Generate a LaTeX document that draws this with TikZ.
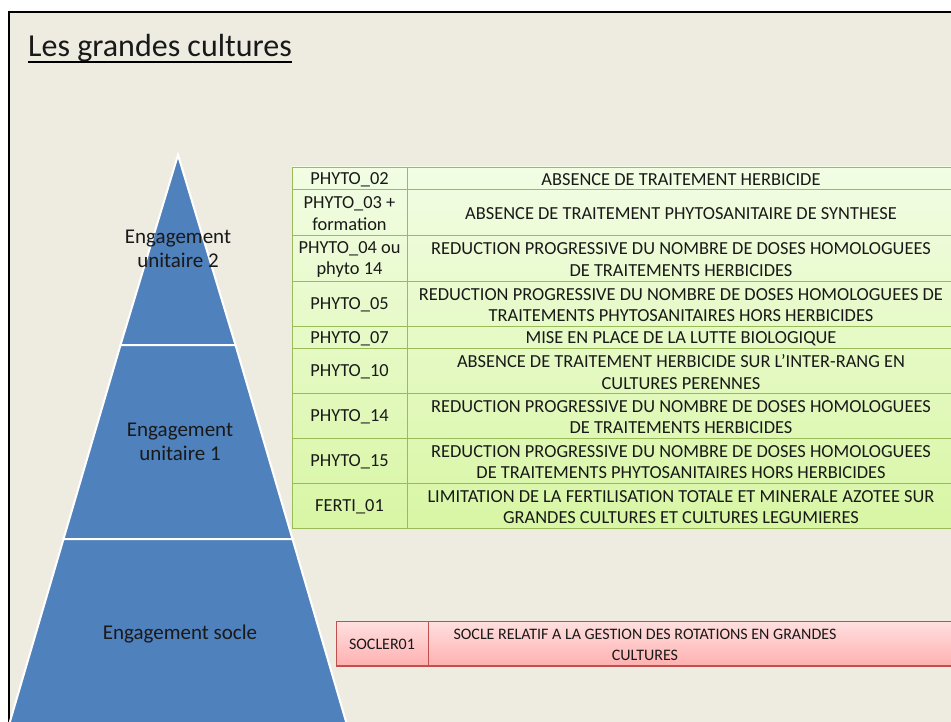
\documentclass[tikz,border=0pt]{standalone}
\usepackage{fontspec}
\setmainfont{Carlito}
\usepackage{tikz}
\usetikzlibrary{calc,positioning}

\definecolor{slidebg}{HTML}{EEECE1}
\definecolor{pyrblue}{HTML}{4F81BD}
\definecolor{tabgreen}{HTML}{9BBB59}
\definecolor{greentop}{HTML}{F2FDE4}
\definecolor{greenbot}{HTML}{D8F6A4}
\definecolor{tabred}{HTML}{C0504D}
\definecolor{redtop}{HTML}{FFE0E0}
\definecolor{redbot}{HTML}{FFB0B0}

\begin{document}
\begin{tikzpicture}[x=1pt, y=-1pt,
  every node/.style={font=\fontsize{18.4}{21.5}\selectfont, text=black!90, inner sep=0pt},
  celltext/.style={align=center},
  grid/.style={draw=tabgreen, line width=0.8pt},
  tierlabel/.style={font=\fontsize{21}{23.5}\selectfont, align=center},
  tier/.style={fill=pyrblue, draw=white, line width=2pt, line join=miter}]

\useasboundingbox (0,0) rectangle (951,722);
\clip (0,0) rectangle (951,722);

% Slide frame
\fill[white] (0,0) rectangle (951,722);
\draw[fill=slidebg, line width=2pt] (9,12) rectangle (990,760);

% Title
\node[font=\fontsize{32}{38}\selectfont, anchor=base west] (title) at (28,57) {Les grandes cultures};
\draw[line width=2pt] ([yshift=-5pt]title.base west) -- ([yshift=-5pt]title.base east);

% Pyramid
\draw[tier] (178,155) -- (120.5,345) -- (235.5,345) -- cycle;
\draw[tier] (120.5,345) -- (63.5,539) -- (292.5,539) -- (235.5,345) -- cycle;
\draw[tier] (63.5,539) -- (4,742) -- (352,742) -- (292.5,539) -- cycle;

\node[tierlabel] (unit2) at (178,249) {Engagement\\unitaire 2};
\node[tierlabel] (unit1) at (180,442) {Engagement\\unitaire 1};
\node[tierlabel] (socle) at (180,634) {Engagement socle};

% Green table: engagements unitaires
\shade[top color=greentop, bottom color=greenbot] (292,167) rectangle (955,528);
\draw[grid] (292,167) rectangle (955,528);
\draw[grid] (407,167) -- (407,528);
\foreach \y in {189,235,281,326,348,393,438,483}
  \draw[grid] (292,\y) -- (955,\y);

\node[celltext] (c02) at (349.5,180) {PHYTO\_02};
\node[celltext] (d02) at (681,180) {ABSENCE DE TRAITEMENT HERBICIDE};

\node[celltext] (c03) at (349.5,213.5) {PHYTO\_03 +\\formation};
\node[celltext] (d03) at (681,213.5) {ABSENCE DE TRAITEMENT PHYTOSANITAIRE DE SYNTHESE};

\node[celltext] (c04) at (349.5,259.5) {PHYTO\_04 ou\\phyto 14};
\node[celltext] (d04) at (681,259.5) {REDUCTION PROGRESSIVE DU NOMBRE DE DOSES HOMOLOGUEES\\DE TRAITEMENTS HERBICIDES};

\node[celltext] (c05) at (349.5,305) {PHYTO\_05};
\node[celltext] (d05) at (681,305) {REDUCTION PROGRESSIVE DU NOMBRE DE DOSES HOMOLOGUEES DE\\TRAITEMENTS PHYTOSANITAIRES HORS HERBICIDES};

\node[celltext] (c07) at (349.5,338.5) {PHYTO\_07};
\node[celltext] (d07) at (681,338.5) {MISE EN PLACE DE LA LUTTE BIOLOGIQUE};

\node[celltext] (c10) at (349.5,372) {PHYTO\_10};
\node[celltext] (d10) at (681,372) {ABSENCE DE TRAITEMENT HERBICIDE SUR L’INTER-RANG EN\\CULTURES PERENNES};

\node[celltext] (c14) at (349.5,417) {PHYTO\_14};
\node[celltext] (d14) at (681,417) {REDUCTION PROGRESSIVE DU NOMBRE DE DOSES HOMOLOGUEES\\DE TRAITEMENTS HERBICIDES};

\node[celltext] (c15) at (349.5,462) {PHYTO\_15};
\node[celltext] (d15) at (681,462) {REDUCTION PROGRESSIVE DU NOMBRE DE DOSES HOMOLOGUEES\\DE TRAITEMENTS PHYTOSANITAIRES HORS HERBICIDES};

\node[celltext] (f01) at (349.5,507) {FERTI\_01};
\node[celltext] (df01) at (681,507) {LIMITATION DE LA FERTILISATION TOTALE ET MINERALE AZOTEE SUR\\GRANDES CULTURES ET CULTURES LEGUMIERES};

% Red table: socle
\shade[top color=redtop, bottom color=redbot] (336,621) rectangle (960,666);
\draw[tabred, line width=0.8pt] (960,621) -- (336,621) -- (336,666);
\draw[tabred, line width=0.8pt] (428,621) -- (428,666);
\draw[tabred, line width=2pt] (336,666) -- (960,666);
\node[celltext, font=\fontsize{16}{21.5}\selectfont] (socler) at (382,644.5) {SOCLER01};
\node[celltext, font=\fontsize{16}{21.5}\selectfont] (soclerdesc) at (645,645) {SOCLE RELATIF A LA GESTION DES ROTATIONS EN GRANDES\\CULTURES};

\end{tikzpicture}
\end{document}
